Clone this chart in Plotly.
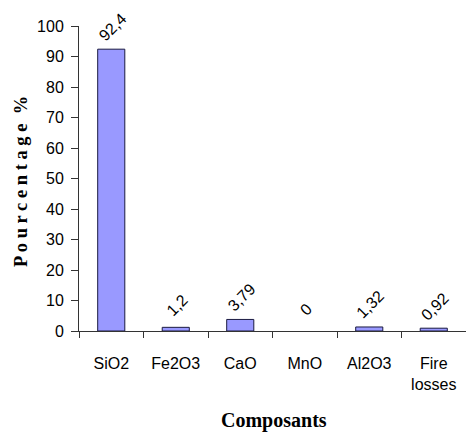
import plotly.graph_objects as go

categories = ["SiO2", "Fe2O3", "CaO", "MnO", "Al2O3", "Fire<br>losses"]
values = [92.4, 1.2, 3.79, 0, 1.32, 0.92]
value_labels = ["92,4", "1,2", "3,79", "0", "1,32", "0,92"]
y_ticks = [0, 10, 20, 30, 40, 50, 60, 70, 80, 90, 100]

SANS = "Liberation Sans Narrow, Arial Narrow, Liberation Sans, Arial, sans-serif"
SERIF = "Liberation Serif, Times New Roman, serif"

fig = go.Figure()
fig.add_trace(go.Bar(
    x=categories, y=values,
    marker=dict(color="#9999ff",
                line=dict(color="#1a1a40", width=[1 if v > 0 else 0 for v in values])),
    width=0.42,
    hoverinfo="skip",
))

for c, v, t in zip(categories, values, value_labels):
    fig.add_annotation(x=c, y=v, text=t, textangle=-45, showarrow=False,
                       yshift=22, xshift=1,
                       font=dict(family=SANS, size=16, color="black"))

fig.add_annotation(xref="paper", yref="paper", x=-0.151, y=0.49,
                   text="P o u r c e n t a g e  %", textangle=-90, showarrow=False,
                   xanchor="center", yanchor="middle",
                   font=dict(family=SERIF, size=18.5, color="black", weight="bold"))
fig.add_annotation(xref="paper", yref="paper", x=0.505, y=-0.295,
                   text="Composants", showarrow=False,
                   xanchor="center", yanchor="middle",
                   font=dict(family=SERIF, size=20, color="black", weight="bold"))

fig.update_layout(
    width=466, height=443,
    margin=dict(l=79, r=0, t=26, b=112),
    paper_bgcolor="white", plot_bgcolor="white",
    showlegend=False,
    font=dict(family=SANS, size=16, color="black"),
    xaxis=dict(
        type="category",
        showline=True, linecolor="#333333", linewidth=1,
        ticks="outside", tickson="boundaries", ticklen=6, tickcolor="#333333",
        showgrid=False, ticklabelstandoff=18,
        tickfont=dict(family=SANS, size=16, color="black"),
    ),
    yaxis=dict(
        range=[0, 100], tickvals=y_ticks,
        showline=True, linecolor="#333333", linewidth=1,
        ticks="outside", ticklen=7, tickcolor="#333333",
        showgrid=False, zeroline=False, ticklabelstandoff=4,
        tickfont=dict(family=SANS, size=16, color="black"),
    ),
)

fig.write_html("out.html")
